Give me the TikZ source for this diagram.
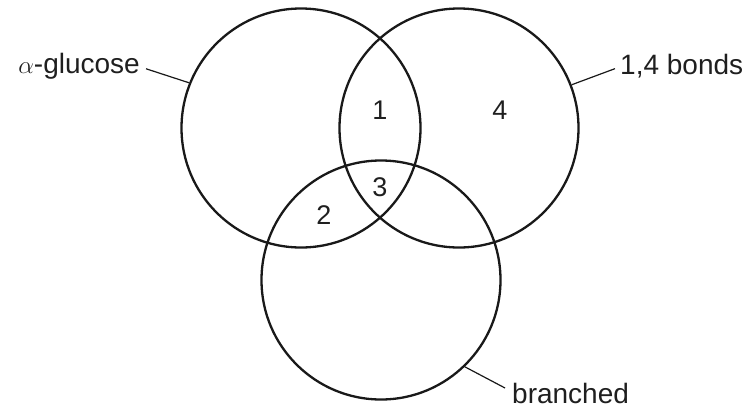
\documentclass[tikz,border=0pt]{standalone}
\usepackage{fontspec}
\setmainfont{Liberation Sans}
\begin{document}
\begin{tikzpicture}[x=1pt,y=-1pt,
  setcirc/.style={draw=black!90,line width=2.3pt,circle,minimum size=239pt,inner sep=0pt},
  lbl/.style={font=\fontsize{28}{30}\selectfont,text=black!88,inner ysep=0pt},
  num/.style={font=\fontsize{27}{29}\selectfont,text=black!88,inner sep=0pt},
  leader/.style={draw=black!90,line width=1.2pt}]
\useasboundingbox (0,0) rectangle (752,410);
\node[setcirc] (L) at (301,128) {};
\node[setcirc] (R) at (459,128) {};
\node[setcirc] (B) at (381,280) {};
\node[num] (n1) at (380,110) {1};
\node[num] (n4) at (500,110) {4};
\node[num] (n3) at (380,187) {3};
\node[num] (n2) at (324,215) {2};
\node[lbl,anchor=base east,inner xsep=6pt] (glc) at (146,73) {$\alpha$-glucose};
\node[lbl,anchor=base west,inner xsep=5pt] (bnd) at (615,74) {1,4 bonds};
\node[lbl,anchor=base west,inner xsep=7pt] (brc) at (505,403) {branched};
\draw[leader] ([yshift=-3pt]glc.east) -- (L.158);
\draw[leader] ([yshift=-3pt]bnd.west) -- (R.21);
\draw[leader] ([yshift=5pt]brc.west) -- (B.-46);
\end{tikzpicture}
\end{document}
